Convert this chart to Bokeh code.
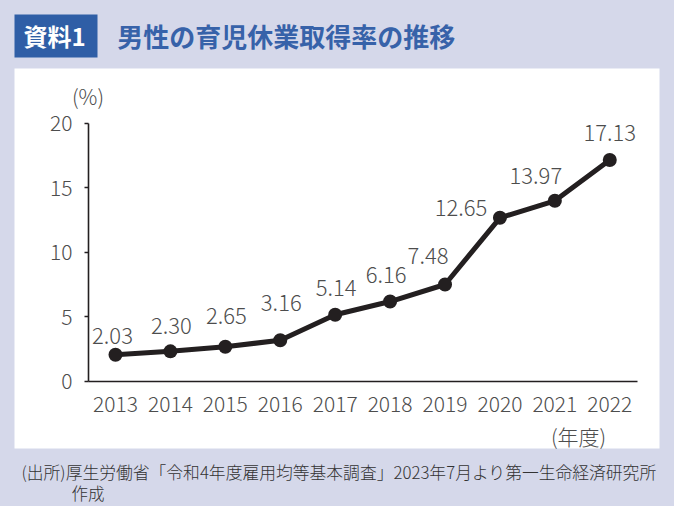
from bokeh.plotting import figure
from bokeh.models import (ColumnDataSource, LinearAxis, FixedTicker, Range1d,
                          BoxAnnotation, Label)
from bokeh.core.properties import value
from bokeh.embed import file_html
from bokeh.resources import INLINE

# ---------------- data ----------------
years = [2013, 2014, 2015, 2016, 2017, 2018, 2019, 2020, 2021, 2022]
rates = [2.03, 2.30, 2.65, 3.16, 5.14, 6.16, 7.48, 12.65, 13.97, 17.13]
rate_labels = [f"{v:.2f}" for v in rates]
y_ticks = [0, 5, 10, 15, 20]

title_tag = "資料1"
title_text = "男性の育児休業取得率の推移"
y_unit = "(%)"
x_unit = "(年度)"
source_line1 = "(出所)厚生労働省「令和4年度雇用均等基本調査」2023年7月より第一生命経済研究所"
source_line2 = "作成"

# ---------------- style ----------------
label_dx = [-3, 1, 1, 1, 1, -4, -17, -39, -19, 0]
label_dy = [-19, -25, -31, -37, -27, -27, -29, -10, -25, -27]

FONT = "Noto Sans CJK JP"
FONT_LIGHT = "Noto Sans CJK JP Light, Noto Sans CJK JP"
BG = "#d5d8ea"
BLUE_BOX = "#2f5ea6"
BLUE_TEXT = "#3762a9"
DARK = "#231f20"
GREY = "#4d4d4d"

W, H = 674, 506
X0_PX, X_STEP = 115.0, 54.92   # canvas px of first year, px per year
Y0_PX, Y_STEP = 380.5, 12.9    # canvas px of 0 %, px per percent


def dx(px):
    return years[0] + (px - X0_PX) / X_STEP


def dy(py):
    return (Y0_PX - py) / Y_STEP


p = figure(width=W, height=H, output_backend="svg", toolbar_location=None,
           x_range=Range1d(dx(0), dx(W)), y_range=Range1d(dy(H), dy(0)),
           x_axis_location=None, y_axis_location=None, min_border=0)
p.outline_line_color = None
p.grid.visible = False
p.background_fill_color = BG
p.border_fill_color = BG

# white panel and title tag box
p.add_layout(BoxAnnotation(left=dx(14), right=dx(659), top=dy(68), bottom=dy(448),
                           fill_color="white", fill_alpha=1, line_color=None,
                           level="underlay"))
p.add_layout(BoxAnnotation(left=dx(14), right=dx(97), top=dy(14), bottom=dy(57),
                           fill_color=BLUE_BOX, fill_alpha=1, line_color=None,
                           level="underlay"))

# axes
xaxis = LinearAxis(fixed_location=0, bounds=(dx(88), dx(637)),
                   ticker=FixedTicker(ticks=years),
                   major_tick_out=0, major_tick_in=0, minor_tick_out=0, minor_tick_in=0,
                   axis_line_width=1.6, axis_line_color=DARK,
                   major_label_text_font=FONT_LIGHT, major_label_text_font_size="21px",
                   major_label_text_color=GREY, major_label_standoff=15)
p.add_layout(xaxis, "below")

yaxis = LinearAxis(fixed_location=dx(88), bounds=(0, 20),
                   ticker=FixedTicker(ticks=y_ticks),
                   major_tick_out=4, major_tick_in=0, minor_tick_out=0, minor_tick_in=0,
                   major_tick_line_width=1.6, major_tick_line_color=DARK,
                   axis_line_width=1.6, axis_line_color=DARK,
                   major_label_text_font=FONT_LIGHT, major_label_text_font_size="21px",
                   major_label_text_color=GREY, major_label_standoff=12)
p.add_layout(yaxis, "left")

# data
src = ColumnDataSource(dict(year=years, rate=rates, label=rate_labels,
                            ldx=label_dx, ldy=label_dy))
p.line("year", "rate", source=src, line_width=5, line_color=DARK, line_join="round")
p.scatter("year", "rate", source=src, size=14, fill_color=DARK, line_color=None)
p.text("year", "rate", text="label", source=src, x_offset="ldx", y_offset="ldy",
       text_align="center", text_baseline="middle", text_font=value(FONT_LIGHT),
       text_font_size="22px", text_color=GREY)

# texts
p.add_layout(Label(x=dx(54), y=dy(35), text=title_tag, text_font=FONT,
                   text_font_size="24px", text_font_style="bold", text_color="white",
                   text_align="center", text_baseline="middle"))
p.add_layout(Label(x=dx(116.7), y=dy(35), text=title_text, text_font=FONT,
                   text_font_size="26px", text_font_style="bold", text_color=BLUE_TEXT,
                   text_align="left", text_baseline="middle"))
p.add_layout(Label(x=dx(87.5), y=dy(95), text=y_unit, text_font=FONT_LIGHT,
                   text_font_size="21px", text_color=GREY,
                   text_align="center", text_baseline="middle"))
p.add_layout(Label(x=dx(578), y=dy(435), text=x_unit, text_font=FONT_LIGHT,
                   text_font_size="21px", text_color=GREY,
                   text_align="center", text_baseline="middle"))
p.add_layout(Label(x=dx(21), y=dy(471), text=source_line1, text_font=FONT_LIGHT,
                   text_font_size="16.8px", text_color="#333333",
                   text_align="left", text_baseline="middle"))
p.add_layout(Label(x=dx(71), y=dy(492), text=source_line2, text_font=FONT_LIGHT,
                   text_font_size="16.5px", text_color="#333333",
                   text_align="left", text_baseline="middle"))

html = file_html(p, INLINE)
html = html.replace("</head>", "<style>html,body{background-color:%s;}</style></head>" % BG, 1)
open("out.html", "w").write(html)
